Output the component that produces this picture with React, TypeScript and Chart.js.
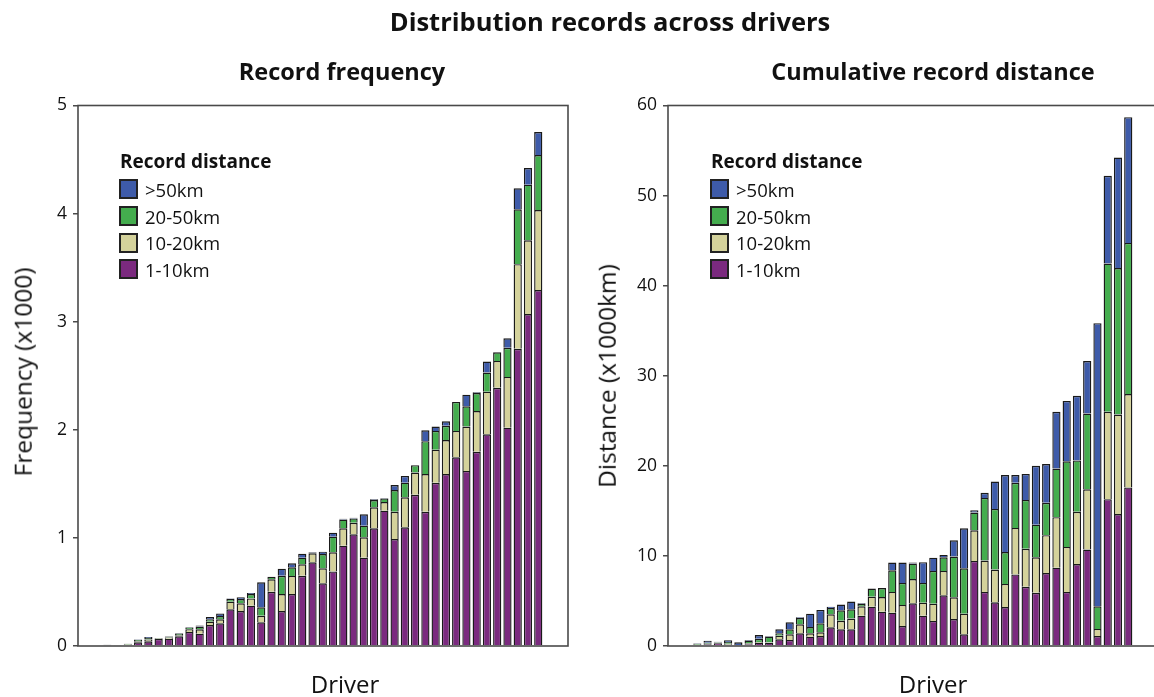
import React, { useEffect, useRef } from 'react';
import { Chart, registerables } from 'chart.js';

Chart.register(...registerables);

// ---------- DATA ----------
const drivers = [1, 2, 3, 4, 5, 6, 7, 8, 9, 10, 11, 12, 13, 14, 15, 16, 17, 18, 19, 20, 21, 22, 23, 24, 25, 26, 27, 28, 29, 30, 31, 32, 33, 34, 35, 36, 37, 38, 39, 40, 41, 42, 43];

const seriesLabels = ['1-10km', '10-20km', '20-50km', '>50km'];
const legendOrder = ['>50km', '20-50km', '10-20km', '1-10km'];
const seriesColors = ['#7B2A7F', '#D4D29B', '#44AD4E', '#3E5BA9'];

// Record frequency (x1000)
const freq1to10 = [0.008, 0.008, 0.01, 0.034, 0.043, 0.065, 0.068, 0.09, 0.13, 0.114, 0.194, 0.21, 0.34, 0.324, 0.373, 0.219, 0.502, 0.324, 0.48, 0.65, 0.774, 0.58, 0.69, 0.928, 1.033, 0.817, 1.089, 1.252, 0.99, 1.098, 1.399, 1.241, 1.51, 1.591, 1.745, 1.62, 1.796, 1.958, 2.389, 2.02, 2.75, 3.071, 3.293];
const freq10to20 = [0, 0.002, 0.005, 0.011, 0.017, 0.005, 0.01, 0.01, 0.025, 0.041, 0.031, 0.037, 0.07, 0.071, 0.067, 0.061, 0.115, 0.156, 0.168, 0.106, 0.083, 0.139, 0.177, 0.161, 0.107, 0.188, 0.194, 0.08, 0.252, 0.277, 0.205, 0.35, 0.306, 0.314, 0.245, 0.41, 0.377, 0.395, 0.248, 0.469, 0.782, 0.682, 0.74];
const freq20to50 = [0, 0, 0.005, 0.01, 0.015, 0.004, 0.01, 0.015, 0.017, 0.025, 0.022, 0.03, 0.025, 0.04, 0.04, 0.078, 0.023, 0.17, 0.08, 0.061, 0.008, 0.132, 0.144, 0.081, 0.04, 0.108, 0.067, 0.033, 0.201, 0.136, 0.069, 0.304, 0.174, 0.132, 0.268, 0.187, 0.167, 0.177, 0.08, 0.269, 0.508, 0.515, 0.509];
const freqOver50 = [0.004, 0, 0, 0.005, 0.008, 0, 0.002, 0.005, 0.004, 0.01, 0.021, 0.023, 0.005, 0.015, 0.01, 0.231, 0, 0.065, 0.037, 0.037, 0.005, 0.022, 0.037, 0.008, 0.007, 0.105, 0.007, 0.004, 0.046, 0.062, 0, 0.101, 0.04, 0.042, 0, 0.108, 0.007, 0.102, 0, 0.088, 0.194, 0.154, 0.213];

// Cumulative record distance (x1000 km)
const dist1to10 = [0.1, 0.2, 0.3, 0.15, 0.05, 0.2, 0.37, 0.37, 0.74, 0.67, 1.41, 1.04, 1.11, 2.07, 1.85, 1.85, 3.37, 4.37, 3.81, 3.7, 2.22, 4.74, 3.37, 2.78, 5.63, 3.0, 1.3, 9.44, 6.0, 4.85, 4.32, 7.94, 6.57, 5.9, 8.1, 8.7, 6.0, 9.1, 10.7, 1.1, 16.3, 14.65, 17.6];
const dist10to20 = [0.05, 0.05, 0.05, 0.1, 0.03, 0.1, 0.08, 0.04, 0.41, 0.63, 1.0, 0.37, 0.41, 1.45, 0.95, 1.19, 1.04, 1.11, 1.63, 2.3, 2.34, 2.7, 1.44, 1.92, 2.7, 2.41, 2.29, 3.41, 3.48, 3.63, 2.57, 5.17, 4.22, 3.94, 4.2, 5.6, 5.0, 5.8, 6.7, 0.8, 9.7, 11.05, 10.37];
const dist20to50 = [0.1, 0.1, 0.08, 0.2, 0.03, 0.27, 0.35, 0.64, 0.26, 0.55, 0.7, 0.7, 1.0, 0.7, 1.16, 1.03, 0.25, 0.89, 1.0, 2.41, 2.44, 1.71, 2.19, 3.63, 1.52, 4.52, 5.04, 1.96, 6.96, 6.74, 3.54, 5.0, 5.43, 3.63, 3.6, 5.4, 9.5, 5.7, 8.4, 2.5, 16.45, 16.26, 16.77];
const distOver50 = [0.05, 0.24, 0.05, 0.18, 0.3, 0.1, 0.42, 0.06, 0.44, 0.78, 0.08, 1.48, 1.48, 0.15, 0.64, 0.86, 0.08, 0, 0, 0.85, 2.26, 0.11, 2.3, 1.48, 0.26, 1.81, 4.44, 0.26, 0.56, 3.04, 8.55, 0.87, 2.88, 6.53, 4.3, 6.3, 6.7, 7.17, 5.83, 31.44, 9.75, 12.27, 13.96];

const freqTickMax = 5;
const freqTickStep = 1;
const distTickMax = 60;
const distTickStep = 10;

// ---------- STYLE ----------
const FONT = '"Open Sans", "DejaVu Sans", sans-serif';
const TEXT = '#111111';
const FRAME = '#4a4a4a';

const framePlugin = {
  id: 'frame',
  afterDatasetsDraw(chart: any) {
    const { ctx, chartArea } = chart;
    const { left, top, right, bottom } = chartArea;
    ctx.save();
    ctx.strokeStyle = FRAME;
    ctx.lineWidth = 1.6;
    ctx.strokeRect(left, top, right - left, bottom - top);
    ctx.restore();
  },
};

function BarPanel(props: { series: number[][]; yMax: number; yStep: number }) {
  const ref = useRef<HTMLCanvasElement | null>(null);
  useEffect(() => {
    if (!ref.current) return;
    const chart = new Chart(ref.current, {
      type: 'bar',
      data: {
        labels: drivers,
        datasets: props.series.map((vals, i) => ({
          label: seriesLabels[i],
          data: vals,
          backgroundColor: seriesColors[i],
          borderColor: '#1a1a1a',
          borderWidth: 1.4,
          categoryPercentage: 1,
          barPercentage: 0.8,
        })),
      },
      options: {
        animation: false,
        responsive: false,
        devicePixelRatio: 1,
        layout: { padding: { left: 0, right: 22, top: 105.5, bottom: 51 } },
        plugins: { legend: { display: false }, tooltip: { enabled: false }, title: { display: false } },
        scales: {
          x: {
            type: 'linear',
            display: false,
            stacked: true,
            offset: false,
            bounds: 'data',
            grace: 0,
            min: drivers[0] - 2.86,
            max: drivers[drivers.length - 1] + 2.9,
            ticks: { includeBounds: true },
          },
          y: {
            stacked: true,
            min: 0,
            max: props.yMax,
            afterFit: (scale: any) => {
              scale.width = 78;
            },
            border: { display: false },
            grid: {
              display: true,
              drawOnChartArea: false,
              drawTicks: true,
              tickLength: 5,
              color: FRAME,
              lineWidth: 1.5,
            },
            ticks: {
              stepSize: props.yStep,
              padding: 6,
              color: TEXT,
              font: { family: FONT, size: 17.5 },
            },
          },
        },
      },
      plugins: [framePlugin],
    } as any);
    return () => chart.destroy();
  }, []);
  return <canvas ref={ref} width={590} height={697} style={{ position: 'absolute', left: 0, top: 0 }} />;
}

function Legend(props: { left: number }) {
  const colorFor = (lbl: string) => seriesColors[seriesLabels.indexOf(lbl)];
  return (
    <div style={{ position: 'absolute', left: props.left, top: 146, fontFamily: FONT, color: TEXT }}>
      <div style={{ fontWeight: 700, fontSize: 19, lineHeight: '30px', height: 30, whiteSpace: 'nowrap', marginLeft: 1 }}>Record distance</div>
      {legendOrder.map((lbl) => (
        <div key={lbl} style={{ display: 'flex', alignItems: 'center', height: 26.7, whiteSpace: 'nowrap' }}>
          <div style={{ width: 15, height: 16, background: colorFor(lbl), border: '2px solid #222', marginRight: 7 }} />
          <span style={{ fontSize: 18.5 }}>{lbl}</span>
        </div>
      ))}
    </div>
  );
}

function Text(props: { x: number; y: number; size: number; bold?: boolean; rotate?: boolean; children: any }) {
  return (
    <div
      style={{
        position: 'absolute',
        left: props.x,
        top: props.y,
        transform: `translate(-50%, -50%)${props.rotate ? ' rotate(-90deg)' : ''}`,
        fontFamily: FONT,
        fontSize: props.size,
        fontWeight: props.bold ? 700 : 400,
        color: TEXT,
        whiteSpace: 'nowrap',
        lineHeight: 1,
      }}
    >
      {props.children}
    </div>
  );
}

export default function App() {
  return (
    <div style={{ position: 'fixed', left: 0, top: 0, width: 1154, height: 697, overflow: 'hidden', background: '#fff' }}>
      <div style={{ position: 'absolute', left: 0, top: 0, width: 590, height: 697 }}>
        <BarPanel series={[freq1to10, freq10to20, freq20to50, freqOver50]} yMax={freqTickMax} yStep={freqTickStep} />
      </div>
      <div style={{ position: 'absolute', left: 590, top: 0, width: 590, height: 697 }}>
        <BarPanel series={[dist1to10, dist10to20, dist20to50, distOver50]} yMax={distTickMax} yStep={distTickStep} />
      </div>
      <Legend left={119} />
      <Legend left={710} />
      <Text x={610} y={22} size={25.5} bold>Distribution records across drivers</Text>
      <Text x={342} y={72} size={23.5} bold>Record frequency</Text>
      <Text x={933} y={72} size={23.5} bold>Cumulative record distance</Text>
      <Text x={23} y={372} size={24.5} rotate>Frequency (x1000)</Text>
      <Text x={607} y={376} size={24.5} rotate>Distance (x1000km)</Text>
      <Text x={345} y={684} size={24} >Driver</Text>
      <Text x={933} y={684} size={24}>Driver</Text>
    </div>
  );
}
